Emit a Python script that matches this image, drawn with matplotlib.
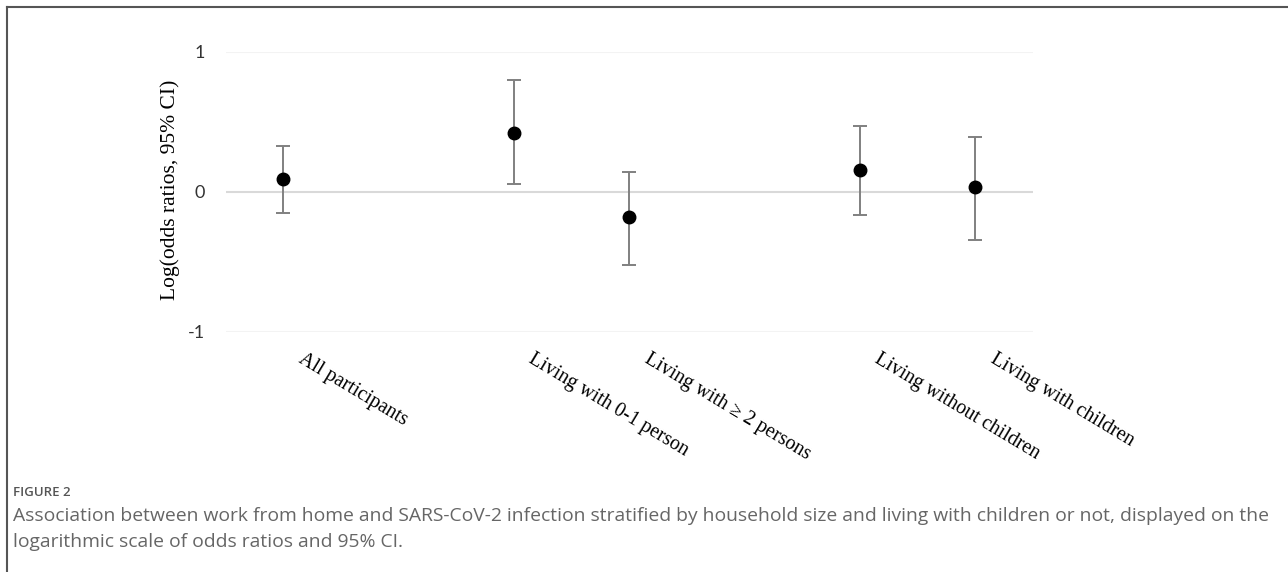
import matplotlib
matplotlib.use("Agg")
import matplotlib.pyplot as plt
import matplotlib.transforms as mtransforms
from matplotlib.lines import Line2D

# categories (blank slots keep Excel-style spacing between groups)
categories = ["All participants", "", "Living with 0-1 person", "Living with \u2265 2 persons",
              "", "Living without children", "Living with children"]
log_or = [0.089, None, 0.419, -0.181, None, 0.157, 0.031]
ci_low = [-0.155, None, 0.055, -0.524, None, -0.167, -0.347]
ci_high = [0.326, None, 0.798, 0.143, None, 0.469, 0.393]
yticks = [-1, 0, 1]

fig = plt.figure(figsize=(12.88, 5.72), dpi=100)
ax = fig.add_axes([0.1752, 0.4201, 0.6268, 0.4895])

xs = [i + 1 for i, v in enumerate(log_or) if v is not None]
ys = [v for v in log_or if v is not None]
lo = [v - l for v, l in zip(log_or, ci_low) if v is not None]
hi = [h - v for v, h in zip(log_or, ci_high) if v is not None]

# gridlines, zero line a bit darker
for t in yticks:
    ax.axhline(t, color="#d9d9d9" if t == 0 else "#f3f3f3", lw=1.5, zorder=0)

ax.errorbar(xs, ys, yerr=[lo, hi], fmt="none", ecolor="#808080", elinewidth=1.4,
            capsize=5, capthick=1.4, zorder=2)
ax.plot(xs, ys, "o", color="black", markersize=9, zorder=3)

ax.set_xlim(0.5, 7.5)
ax.set_ylim(-1, 1)
ax.set_yticks(yticks)
ax.set_yticklabels([str(t) for t in yticks], family="Lato", fontsize=13, color="#333333")
ax.tick_params(axis="y", length=0, pad=15)

ax.set_xticks(range(1, len(categories) + 1))
ax.set_xticklabels(categories, rotation=-31, ha="left", va="top", rotation_mode="anchor",
                   family="Liberation Serif", fontsize=14.3, color="black")
ax.tick_params(axis="x", length=0, pad=13)
shift = mtransforms.ScaledTranslation(21 / 100, 0, fig.dpi_scale_trans)
for lab in ax.get_xticklabels():
    lab.set_transform(lab.get_transform() + shift)

for s in ax.spines.values():
    s.set_visible(False)

fig.text(170 / 1288, 1 - 190 / 572, "Log(odds ratios, 95% CI)", rotation=90,
         ha="center", va="center", family="Liberation Serif", fontsize=15.5)

# outer frame (top and left edges)
fig.add_artist(Line2D([7 / 1288, 1], [1 - 7 / 572, 1 - 7 / 572], transform=fig.transFigure,
                      color="#555555", lw=1.5))
fig.add_artist(Line2D([7 / 1288, 7 / 1288], [0, 1 - 7 / 572], transform=fig.transFigure,
                      color="#555555", lw=1.5))

# caption
fig.text(13 / 1288, 1 - 493 / 572, "FIGURE 2", family="Open Sans", fontsize=9.5,
         fontweight="semibold", color="#555555", va="center")
fig.text(13 / 1288, 1 - 516 / 572,
         "Association between work from home and SARS-CoV-2 infection stratified by household size "
         "and living with children or not, displayed on the",
         family="Open Sans", fontsize=13.9, color="#666666", va="center")
fig.text(13 / 1288, 1 - 542 / 572, "logarithmic scale of odds ratios and 95% CI.",
         family="Open Sans", fontsize=13.9, color="#666666", va="center")

fig.savefig("out.png", dpi=100)
